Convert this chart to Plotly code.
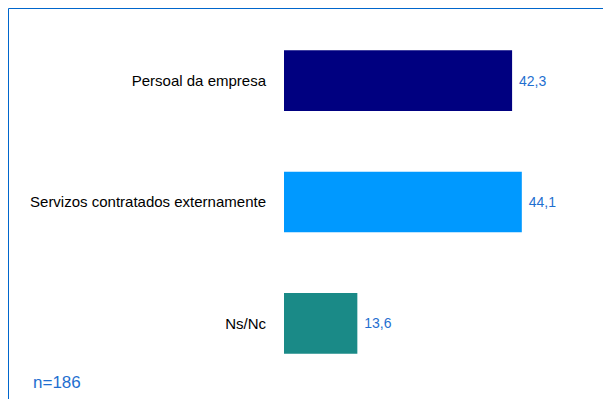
import plotly.graph_objects as go

categories = ["Persoal da empresa", "Servizos contratados externamente", "Ns/Nc"]
values = [42.3, 44.1, 13.6]
bar_colors = ["#000080", "#0099FF", "#1A8A87"]
note_text = "n=186"

labels = [" " + f"{v:.1f}".replace(".", ",") for v in values]

FONT = "Liberation Sans, Arial, sans-serif"
BLUE_TXT = "#1F6FD0"

# page body has an 8px margin; work in reference pixel coords minus 8
OFF = 8
W, H = 611 - OFF, 399 - OFF
L, T = 284 - OFF, 20 - OFF
R = W - (600 - OFF)
B = H - (384 - OFF)
pw, ph = W - L - R, H - T - B

fig = go.Figure(go.Bar(
    y=categories, x=values, orientation="h",
    marker=dict(color=bar_colors, line=dict(width=0)),
    width=0.5,
    text=labels, textposition="outside", cliponaxis=False,
    textfont=dict(family=FONT, size=14, color=BLUE_TXT),
    hoverinfo="skip",
))


def px_x(x):
    return (x - OFF - L) / pw


def px_y(y):
    return (H - B - (y - OFF)) / ph


fig.update_layout(
    width=W, height=H,
    margin=dict(l=L, r=R, t=T, b=B, autoexpand=False),
    paper_bgcolor="white", plot_bgcolor="white",
    showlegend=False,
    font=dict(family=FONT, size=15, color="black"),
    xaxis=dict(range=[0, 58.6], visible=False, showgrid=False, zeroline=False),
    yaxis=dict(autorange="reversed", showgrid=False, zeroline=False, showline=False,
               ticks="", ticklabelstandoff=17,
               tickfont=dict(family=FONT, size=15, color="black")),
    shapes=[dict(type="rect", xref="paper", yref="paper",
                 x0=px_x(OFF + 0.5), x1=px_x(640), y0=px_y(430), y1=px_y(OFF + 0.5),
                 line=dict(color="#0066CC", width=1), fillcolor="rgba(0,0,0,0)",
                 layer="above")],
    annotations=[dict(text=note_text, xref="paper", yref="paper",
                      x=px_x(31), y=px_y(382.5), xanchor="left", yanchor="middle",
                      showarrow=False,
                      font=dict(family=FONT, size=17, color=BLUE_TXT))],
)

fig.write_html("out.html")
